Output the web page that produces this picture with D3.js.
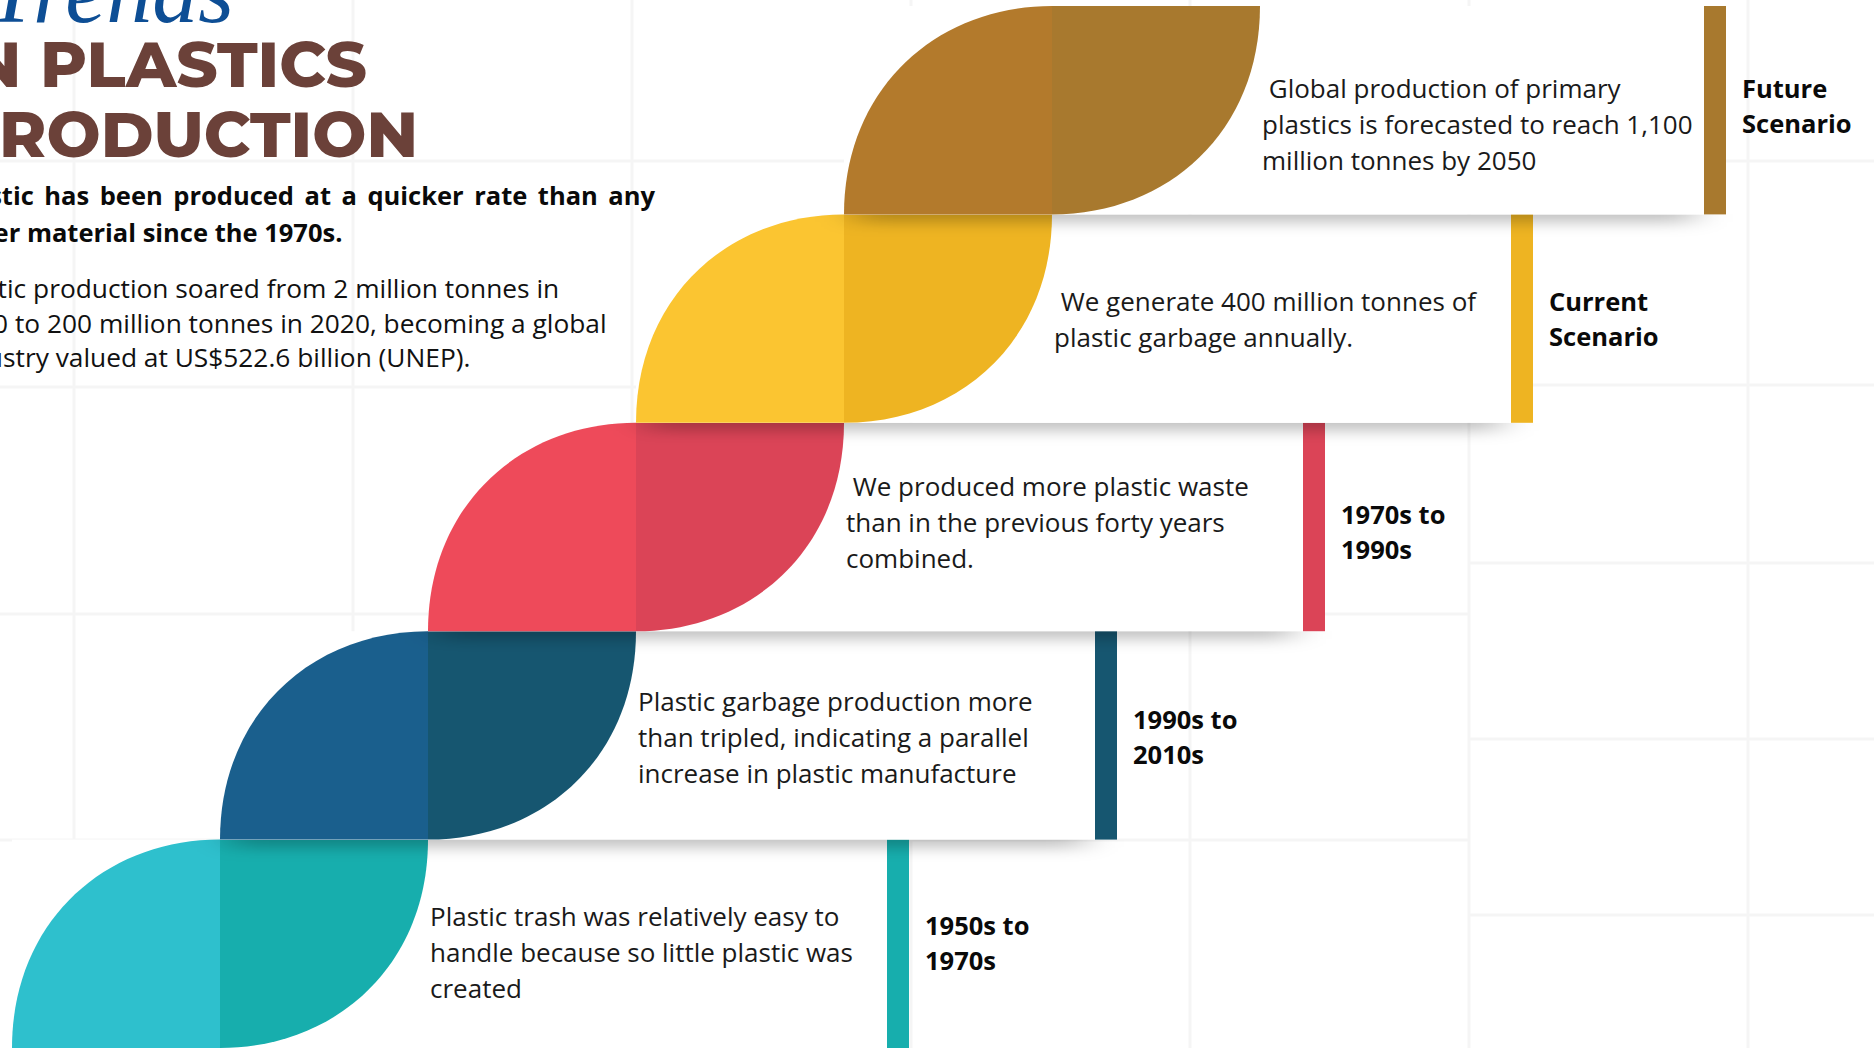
<!DOCTYPE html>
<html>
<head>
<meta charset="utf-8">
<script src="https://cdn.jsdelivr.net/npm/d3@7"></script>
<style>
  html, body { margin: 0; padding: 0; background: #fff; overflow: hidden; }
  svg { display: block; }
  text { white-space: pre; }
</style>
</head>
<body>
<svg id="chart" width="1874" height="1048"></svg>
<script>
// steps, listed from the bottom one to the top one
const periods = [
  ["1950s to", "1970s"],
  ["1990s to", "2010s"],
  ["1970s to", "1990s"],
  ["Current", "Scenario"],
  ["Future", "Scenario"]
];
const notes = [
  ["Plastic trash was relatively easy to", "handle because so little plastic was", "created"],
  ["Plastic garbage production more", "than tripled, indicating a parallel", "increase in plastic manufacture"],
  [" We produced more plastic waste", "than in the previous forty years", "combined."],
  [" We generate 400 million tonnes of", "plastic garbage annually."],
  [" Global production of primary", "plastics is forecasted to reach 1,100", "million tonnes by 2050"]
];
const lightColors = ["#2ec0cd", "#1a5f8d", "#ee4a5a", "#fbc531", "#b37a2c"];
const darkColors  = ["#17aead", "#165670", "#db4457", "#eeb422", "#a8792e"];

const kicker = "Trends";
const titleLines = ["IN PLASTICS", "PRODUCTION"];
const introBold = ["Plastic has been produced at a quicker rate than any", "other material since the 1970s."];
const introText = [
  "Plastic production soared from 2 million tonnes in",
  "1950 to 200 million tonnes in 2020, becoming a global",
  "industry valued at US$522.6 billion (UNEP)."
];

// ---- layout
const W = 1874, H = 1048;
const svg = d3.select("#chart");
const x = d3.scaleLinear().domain([0, 6]).range([12, 1260]);   // step columns
const y = d3.scaleLinear().domain([0, 5]).range([1048, 6]);    // step rows
const cardGap = [459, 459, 459, 459, 444];                     // leaf tip -> bar
const noteShift = [3, -3, -10, 0, 9];                          // small hand nudges
const labelShift = [-2, 1, 4, 0, -5];
const barW = 22;
const k1 = 0.6, k2 = 0.56;                                     // leaf curve handles

const defs = svg.append("defs");
defs.append("filter")
    .attr("id", "soft")
    .attr("x", "-20%").attr("y", "-40%").attr("width", "140%").attr("height", "180%")
  .append("feGaussianBlur")
    .attr("stdDeviation", "18 7");

// background grid
const grid = svg.append("g").attr("stroke", "#f5f5f5").attr("stroke-width", 3);
grid.selectAll("line.v").data(d3.range(74, W, 279)).enter().append("line")
    .attr("x1", d => d).attr("x2", d => d).attr("y1", 0).attr("y2", H);
grid.selectAll("line.hl").data([161, 387, 614, 840]).enter().append("line")
    .attr("x1", 0).attr("x2", 1469).attr("y1", d => d).attr("y2", d => d);
grid.selectAll("line.hr").data([161, 385, 563, 739, 915]).enter().append("line")
    .attr("x1", 1469).attr("x2", W).attr("y1", d => d).attr("y2", d => d);

function leftPiece(a, w, top, bot) {
  const h = bot - top, p = d3.path();
  p.moveTo(a, bot);
  p.bezierCurveTo(a, bot - k1 * h, a + w - k2 * w, top, a + w, top);
  p.lineTo(a + w, bot);
  p.closePath();
  return p.toString();
}
function rightPiece(b, w, top, bot) {
  const h = bot - top, p = d3.path();
  p.moveTo(b, top);
  p.lineTo(b + w, top);
  p.bezierCurveTo(b + w, top + k1 * h, b + k2 * w, bot, b, bot);
  p.closePath();
  return p.toString();
}

const rows = periods.map((p, i) => ({i, period: p, note: notes[i], light: lightColors[i], dark: darkColors[i]}));

const step = svg.selectAll("g.step").data(rows).enter().append("g").attr("class", "step");

step.each(function(d) {
  const g = d3.select(this);
  const i = d.i;
  const top = y(i + 1), bot = y(i);
  const a = x(i), b = x(i + 1), tip = x(i + 2), w = b - a;
  const barX = tip + cardGap[i];

  // shadow under the card, only below its bottom edge
  const clipId = "clip" + i;
  defs.append("clipPath").attr("id", clipId)
    .append("rect").attr("x", a - 40).attr("y", bot).attr("width", barX + barW - a + 80).attr("height", 40);
  g.append("g").attr("clip-path", `url(#${clipId})`)
    .append("rect")
      .attr("x", a + 10).attr("y", top + 8)
      .attr("width", barX - a - 20).attr("height", bot - top)
      .attr("fill", "#000").attr("fill-opacity", 0.24)
      .attr("filter", "url(#soft)");

  // card
  g.append("rect").attr("x", a).attr("y", top).attr("width", barX + barW - a).attr("height", bot - top)
    .attr("fill", "#fff");

  // leaf
  g.append("path").attr("d", leftPiece(a, w, top, bot)).attr("fill", d.light);
  g.append("path").attr("d", rightPiece(b, w, top, bot)).attr("fill", d.dark);

  // bar
  g.append("rect").attr("x", barX).attr("y", top).attr("width", barW).attr("height", bot - top)
    .attr("fill", d.dark);

  // description
  const n = d.note.length;
  g.append("text")
      .attr("font-family", "'Open Sans', sans-serif").attr("font-size", 26).attr("fill", "#1a1a1a")
    .selectAll("tspan").data(d.note).enter().append("tspan")
      .attr("x", tip + 2)
      .attr("y", (t, j) => top + 97 - (n - 2) * 14 + noteShift[i] + j * 36)
      .text(t => t);

  // period label
  g.append("text")
      .attr("font-family", "'Open Sans', sans-serif").attr("font-size", 25.5)
      .attr("font-weight", 700).attr("fill", "#0a0a0a")
    .selectAll("tspan").data(d.period).enter().append("tspan")
      .attr("x", barX + barW + 16)
      .attr("y", (t, j) => top + 97 + labelShift[i] + j * 35)
      .text(t => t);
});

// ---- heading block (cropped on the left like the source)
svg.append("text")
    .attr("x", 234).attr("y", 22).attr("text-anchor", "end")
    .attr("font-family", "'Liberation Serif', serif").attr("font-style", "italic")
    .attr("font-size", 92).attr("fill", "#0d4e95")
    .text(kicker);

svg.selectAll("text.title").data(titleLines).enter().append("text")
    .attr("class", "title")
    .attr("x", (t, j) => [367, 418][j]).attr("y", (t, j) => [87, 157][j])
    .attr("text-anchor", "end")
    .attr("font-family", "Montserrat, Inter, 'Open Sans', sans-serif")
    .attr("font-weight", 800).attr("font-size", 64).attr("fill", "#6b4139")
    .text(t => t);

const introX = -50;
const bold = svg.selectAll("text.bold").data(introBold).enter().append("text")
    .attr("class", "bold")
    .attr("x", introX).attr("y", (t, j) => 205 + j * 37)
    .attr("font-family", "'Open Sans', sans-serif").attr("font-weight", 700)
    .attr("font-size", 25.5).attr("fill", "#0a0a0a")
    .text(t => t);
// justify the first bold line to the column edge
bold.filter((t, j) => j === 0).each(function(t) {
  const natural = this.getComputedTextLength();
  const gaps = t.split(" ").length - 1;
  d3.select(this).attr("word-spacing", (655 - introX - natural) / gaps);
});

svg.selectAll("text.intro").data(introText).enter().append("text")
    .attr("class", "intro")
    .attr("x", introX - 2).attr("y", (t, j) => 298 + j * 34.5)
    .attr("font-family", "'Open Sans', sans-serif")
    .attr("font-size", 26.3).attr("fill", "#111")
    .text(t => t);
</script>
</body>
</html>
